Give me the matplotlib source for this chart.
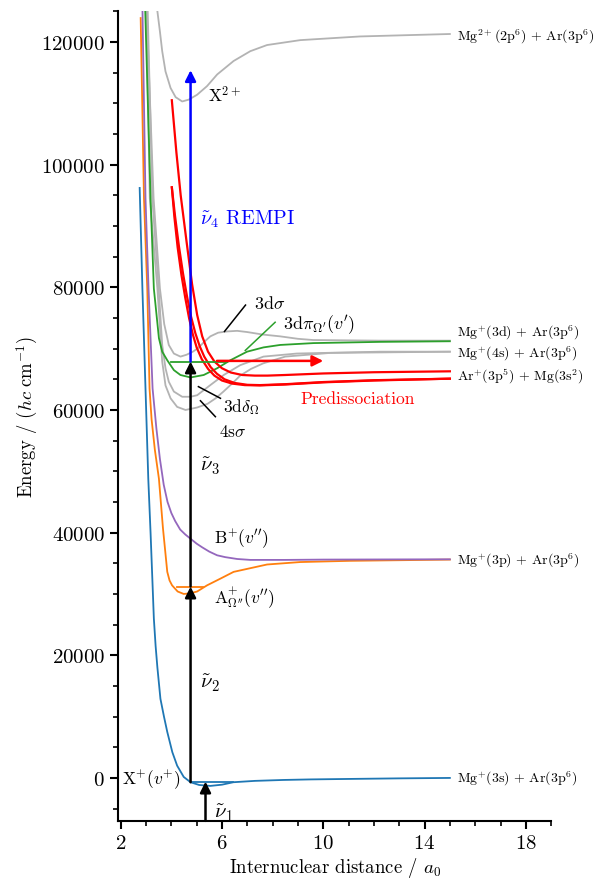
import numpy as np
import matplotlib.pyplot as plt
from matplotlib.ticker import MultipleLocator

plt.rcParams['font.family'] = 'serif'
plt.rcParams['font.serif'] = ['cmr10']
plt.rcParams['mathtext.fontset'] = 'cm'
plt.rcParams['axes.formatter.use_mathtext'] = True

# potential energy curves: R in a0, E in cm-1
R_X = [2.75, 2.86, 2.98, 3.09, 3.18, 3.25, 3.31, 3.38, 3.45, 3.57, 3.71, 3.84, 4.04, 4.23, 4.49, 4.76,
       5.1, 5.54, 6.0, 6.45, 7.3, 8.42, 9.5, 11.1, 13.0, 15.0]
E_X = [96200, 79500, 63500, 48800, 40000, 32500, 26000, 21500, 18000, 12900, 10000, 7500, 4200, 2000, 160, -700,
       -1150, -1300, -1100, -700, -480, -330, -240, -160, -70, 0]

R_A = [2.79, 2.92, 3.05, 3.14, 3.22, 3.35, 3.51, 3.67, 3.84, 3.93, 4.03, 4.25, 4.49, 4.75, 5.02, 5.41,
       5.94, 6.46, 7.12, 7.78, 9.09, 11.06, 15.0]
E_A = [123900, 94500, 79800, 63500, 58500, 53500, 48800, 40700, 33600, 32200, 31400, 30400, 30000, 30100,
       30400, 31400, 32500, 33600, 34200, 34800, 35200, 35400, 35600]

R_B = [2.85, 2.98, 3.10, 3.26, 3.41, 3.55, 3.70, 3.85, 4.0, 4.15, 4.35, 4.55, 4.76, 5.0, 5.22, 5.5, 5.81,
       6.13, 6.6, 7.12, 8.5, 10.0, 15.0]
E_B = [128000, 94500, 79800, 63500, 57000, 52000, 47800, 45000, 43200, 41900, 40500, 39700, 39000, 38200,
       37600, 36900, 36300, 36000, 35700, 35550, 35550, 35600, 35650]

R_3dpi = [2.95, 3.18, 3.31, 3.51, 3.64, 3.84, 4.10, 4.36, 4.76, 5.28, 5.81, 6.33, 6.99, 7.64, 8.3, 9.61,
          12.24, 15.0]
E_3dpi = [128000, 94500, 79800, 71700, 69500, 68100, 66500, 65700, 65300, 65700, 66800, 68100, 69500, 70200,
          70600, 70900, 71100, 71200]

R_3dsig = [3.0, 3.3, 3.55, 3.72, 3.9, 4.1, 4.36, 4.6, 4.85, 5.03, 5.3, 5.54, 5.85, 6.2, 6.6, 7.0, 7.6, 8.3,
           9.0, 9.6, 12.2, 15.0]
E_3dsig = [128000, 94500, 79800, 74000, 70600, 69200, 68700, 69000, 69500, 70000, 71100, 72000, 72600, 72800,
           72900, 72700, 72300, 72000, 71600, 71400, 71300, 71300]

R_3ddel = [3.05, 3.25, 3.5, 3.64, 3.77, 3.90, 4.10, 4.43, 4.75, 5.02, 5.54, 6.07, 6.72, 7.64, 8.96, 12.24, 15.0]
E_3ddel = [128000, 94500, 79800, 70600, 66800, 64600, 63000, 62150, 62150, 62400, 64050, 65700, 67300, 68700,
           69200, 69500, 69500]

R_4s = [3.0, 3.15, 3.45, 3.64, 3.77, 3.97, 4.23, 4.56, 5.02, 5.43, 5.75, 6.06, 6.4, 6.72, 7.15, 7.63, 8.5,
        10.27, 15.0]
E_4s = [128000, 94500, 79800, 67900, 64000, 61900, 60500, 60000, 60400, 61000, 61900, 63000, 64300, 65600,
        66700, 67600, 68700, 69300, 69500]

R_X2 = [3.40, 3.45, 3.55, 3.64, 3.77, 3.97, 4.17, 4.43, 4.69, 5.02, 5.41, 5.81, 6.46, 7.12, 7.78, 9.09,
        11.45, 15.0]
E_X2 = [127500, 125000, 121700, 118500, 115200, 112500, 111000, 110300, 110600, 111400, 112800, 114700,
        116900, 118500, 119500, 120300, 120900, 121300]

R_red1 = [4.02, 4.2, 4.37, 4.6, 4.82, 5.02, 5.22, 5.45, 5.7, 6.0, 6.35, 6.8, 7.3, 7.8, 8.5, 10.0, 12.0, 15.0]
E_red1 = [110500, 102000, 95000, 87500, 80500, 75500, 72000, 69500, 67900, 66800, 66100, 65700, 65600, 65600,
          65700, 65950, 66150, 66300]
R_red2 = [4.02, 4.12, 4.25, 4.4, 4.55, 4.7, 4.85, 5.0, 5.2, 5.45, 5.7, 6.0, 6.4, 6.9, 7.5, 8.5, 10.0, 12.0, 15.0]
E_red2 = [96300, 91500, 86500, 82000, 78300, 75000, 72300, 70200, 68300, 66700, 65600, 64800, 64300, 64050,
          64000, 64150, 64500, 64800, 65100]
R_red3 = [4.02, 4.15, 4.3, 4.46, 4.62, 4.78, 4.95, 5.12, 5.3, 5.55, 5.8, 6.1, 6.5, 7.0, 7.5, 8.5, 10.0, 12.0, 15.0]
E_red3 = [96300, 91500, 86700, 82300, 78500, 75200, 72500, 70400, 68700, 67000, 65900, 65000, 64400, 64100,
          64050, 64200, 64550, 64850, 65100]

# vibrational levels: (R_left, R_right, E)
lev_X = (4.76, 6.45, -700)
lev_A = (4.24, 5.27, 31200)
lev_3dpi = (3.97, 6.2, 67900)

# excitation steps
R_exc = 4.76
R_nu1 = 5.35
E_nu4_top = 115400
E_nu1_top = -600
R_pred = (5.8, 10.0)
E_pred = 68000

asymptotes = ['Mg$^{2+}$(2p$^{6}$) + Ar(3p$^{6}$)',
              'Mg$^{+}$(3d) + Ar(3p$^{6}$)',
              'Mg$^{+}$(4s) + Ar(3p$^{6}$)',
              'Ar$^{+}$(3p$^{5}$) + Mg(3s$^{2}$)',
              'Mg$^{+}$(3p) + Ar(3p$^{6}$)',
              'Mg$^{+}$(3s) + Ar(3p$^{6}$)']
E_asym = [121000, 72800, 69300, 65700, 35600, 0]

gray = '#b3b3b3'

fig = plt.figure(figsize=(6.09, 8.79), dpi=100)
ax = fig.add_axes([0.194, 0.065, 0.711, 0.921])

ax.plot(R_X2, E_X2, color=gray, lw=1.3)
ax.plot(R_3dsig, E_3dsig, color=gray, lw=1.3)
ax.plot(R_3ddel, E_3ddel, color=gray, lw=1.3)
ax.plot(R_4s, E_4s, color=gray, lw=1.3)
ax.plot(R_X, E_X, color='C0', lw=1.3)
ax.plot(R_A, E_A, color='C1', lw=1.3)
ax.plot(R_B, E_B, color='C4', lw=1.3)
ax.plot(R_3dpi, E_3dpi, color='C2', lw=1.3)
for r, e in [(R_red1, E_red1), (R_red2, E_red2), (R_red3, E_red3)]:
    ax.plot(r, e, color='red', lw=1.6)

ax.plot(lev_X[:2], [lev_X[2]] * 2, color='C0', lw=1.3)
ax.plot(lev_A[:2], [lev_A[2]] * 2, color='C1', lw=1.3)
ax.plot(lev_3dpi[:2], [lev_3dpi[2]] * 2, color='C2', lw=1.3)


def arrow(x0, y0, x1, y1, c):
    ax.annotate('', xy=(x1, y1), xytext=(x0, y0),
                arrowprops=dict(arrowstyle='-|>', color=c, lw=1.8, mutation_scale=16,
                                shrinkA=0, shrinkB=0))


arrow(R_nu1, -7000, R_nu1, E_nu1_top, 'black')
arrow(R_exc, lev_X[2], R_exc, lev_A[2], 'black')
arrow(R_exc, lev_A[2], R_exc, lev_3dpi[2], 'black')
arrow(R_exc, lev_3dpi[2], R_exc, E_nu4_top, 'blue')
arrow(R_pred[0], E_pred, R_pred[1], E_pred, 'red')

fs = 12.5
ax.text(5.7, -5600, r'$\tilde{\nu}_1$', fontsize=15, va='center')
ax.text(5.15, 15500, r'$\tilde{\nu}_2$', fontsize=15, va='center')
ax.text(5.15, 50900, r'$\tilde{\nu}_3$', fontsize=15, va='center')
ax.text(5.15, 91300, r'$\tilde{\nu}_4$ REMPI', fontsize=14.5, va='center', color='blue')
ax.text(5.43, 111500, r'X$^{2+}$', fontsize=fs, va='center')
ax.text(9.1, 61900, 'Predissociation', fontsize=fs, va='center', color='red')
ax.text(5.7, 39000, r"B$^{+}(v'')$", fontsize=fs, va='center')
ax.text(5.7, 29500, r"A$^{+}_{\Omega''}(v'')$", fontsize=fs, va='center')
ax.text(2.05, -300, r'X$^{+}(v^{+})$', fontsize=fs, va='center')
ax.text(7.25, 77500, r'3d$\sigma$', fontsize=13, va='center')
ax.text(8.4, 74000, r"3d$\pi_{\Omega'}(v')$", fontsize=13, va='center')
ax.text(6.05, 60700, r'3d$\delta_\Omega$', fontsize=fs, va='center')
ax.text(5.9, 56500, r'4s$\sigma$', fontsize=fs, va='center')

# leader lines
ax.plot([6.1, 6.93], [72800, 77100], color='black', lw=1.1)
ax.plot([6.92, 8.1], [69700, 74300], color='C2', lw=1.1)
ax.plot([5.07, 5.94], [63800, 61900], color='black', lw=1.1)
ax.plot([5.15, 5.74], [61500, 58900], color='black', lw=1.1)

for lab, e in zip(asymptotes, E_asym):
    ax.text(15.3, e, lab, fontsize=10, va='center')

ax.set_xlim(1.9, 19)
ax.set_ylim(-7000, 125000)
ax.set_xticks([2, 6, 10, 14, 18])
ax.xaxis.set_minor_locator(MultipleLocator(1))
ax.yaxis.set_major_locator(MultipleLocator(20000))
ax.yaxis.set_minor_locator(MultipleLocator(5000))
ax.spines['top'].set_visible(False)
ax.spines['right'].set_visible(False)
for s in ['left', 'bottom']:
    ax.spines[s].set_linewidth(1.5)
ax.tick_params(which='major', length=6, width=1.5, labelsize=15)
ax.tick_params(which='minor', length=3.5, width=1.2)
ax.set_xlabel(r'Internuclear distance / $a_0$', fontsize=13.5, labelpad=2)
ax.set_ylabel(r'Energy / $(hc\ \mathrm{cm}^{-1})$', fontsize=13.5, labelpad=1)

fig.savefig('out.png', dpi=100)
